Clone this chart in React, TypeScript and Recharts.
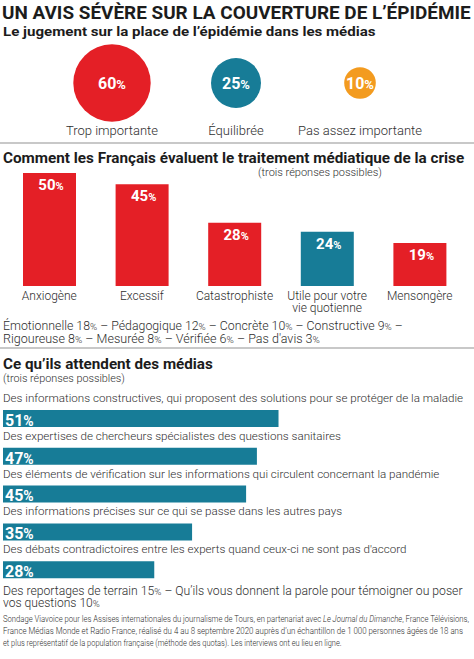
import React, { useLayoutEffect, useRef, useState } from 'react';
import { ScatterChart, Scatter, XAxis, YAxis, ZAxis, BarChart, Bar, Cell, LabelList } from 'recharts';

// Le jugement sur la place de l'épidémie dans les médias
const jugementLabels = ['Trop importante', 'Équilibrée', 'Pas assez importante'];
const jugementValues = [60, 25, 10];

// Comment les Français évaluent le traitement médiatique de la crise
const traitementLabels = ['Anxiogène', 'Excessif', 'Catastrophiste', 'Utile pour votre\nvie quotienne', 'Mensongère'];
const traitementValues = [50, 45, 28, 24, 19];
const autresLigne1: [string, number][] = [['Émotionnelle', 18], ['Pédagogique', 12], ['Concrète', 10], ['Constructive', 9]];
const autresLigne2: [string, number][] = [['Rigoureuse', 8], ['Mesurée', 8], ['Vérifiée', 6], ["Pas d'avis", 3]];

// Ce qu'ils attendent des médias
const attentesLabels = [
  'Des informations constructives, qui proposent des solutions pour se protéger de la maladie',
  'Des expertises de chercheurs spécialistes des questions sanitaires',
  'Des éléments de vérification sur les informations qui circulent concernant la pandémie',
  'Des informations précises sur ce qui se passe dans les autres pays',
  "Des débats contradictoires entre les experts quand ceux-ci ne sont pas d'accord",
];
const attentesValues = [51, 47, 45, 35, 28];

const RED = '#e41f26';
const TEAL = '#177c97';
const ORANGE = '#f39b1f';
const INK = '#1c1c1c';
const GREY = '#2e2e2e';
const RULE = '#c8c8c8';
const FONT = 'Roboto, sans-serif';

const jugementColors = [RED, TEAL, ORANGE];
const traitementColors = [RED, RED, RED, TEAL, RED];

const jugementData = jugementLabels.map((name, i) => ({ name, value: jugementValues[i], y: 0.5 }));
const traitementData = traitementLabels.map((name, i) => ({ name, value: traitementValues[i] }));
const attentesData = attentesLabels.map((name, i) => ({ name, value: attentesValues[i] }));

// text squeezed horizontally to a given width (the original uses a condensed face)
const Fit = ({ x, y, size, weight = 400, len, fill = INK, children }: any) => {
  const ref = useRef<SVGTextElement>(null);
  const [k, setK] = useState(1);
  useLayoutEffect(() => {
    if (!ref.current) return;
    const w = ref.current.getBBox().width;
    if (w > 0) setK(len / w);
  }, [len]);
  return (
    <text
      ref={ref}
      x={0}
      y={0}
      transform={`translate(${x},${y}) scale(${k},1)`}
      fontSize={size}
      fontWeight={weight}
      fill={fill}
    >
      {children}
    </text>
  );
};

const Pct = ({ v, size }: { v: number | string; size: number }) => (
  <>
    {v}
    <tspan fontSize={size}>%</tspan>
  </>
);

const pctList = (items: [string, number][], size: number, tail: boolean) =>
  items.map(([lab, v], i) => (
    <React.Fragment key={lab}>
      {i > 0 ? ' – ' : ''}
      {lab} {v}
      <tspan fontSize={size}>%</tspan>
      {tail && i === items.length - 1 ? ' –' : ''}
    </React.Fragment>
  ));

const BubbleShape = (props: any) => {
  const { cx, cy, size, index, payload } = props;
  const r = Math.sqrt(Math.max(size, 0) / Math.PI);
  return (
    <g>
      <circle cx={cx} cy={cy} r={r} fill={jugementColors[index]} />
      <text x={cx} y={cy + 5.5} textAnchor="middle" fill="#fff" fontSize={16} fontWeight={700} fontFamily={FONT}>
        <Pct v={payload.value} size={13} />
      </text>
    </g>
  );
};

const BubbleTick = ({ x, y, payload }: any) => (
  <text x={x} y={y + 15} textAnchor="middle" fontSize={13} fontWeight={300} fill={GREY} fontFamily={FONT}>
    {payload.value}
  </text>
);

const ColTick = ({ x, y, payload }: any) => (
  <text x={x} y={y} textAnchor="middle" fontSize={12} fontWeight={300} fill={GREY} fontFamily={FONT}>
    {String(payload.value).split('\n').map((line, i) => (
      <tspan key={i} x={x} dy={i === 0 ? 14 : 12}>
        {line}
      </tspan>
    ))}
  </text>
);

const ColLabel = ({ x, y, width, value }: any) => (
  <text x={x + width / 2 + 1.5} y={y + 17} textAnchor="middle" fill="#fff" fontSize={15} fontWeight={700} fontFamily={FONT}>
    <Pct v={value} size={11} />
  </text>
);

const RowName = ({ x, y, value }: any) => (
  <text x={x} y={y - 8} textAnchor="start" fontSize={11.6} fontWeight={300} fill={GREY} fontFamily={FONT}>
    {value}
  </text>
);

const RowLabel = ({ x, y, height, value }: any) => (
  <text x={x + 2} y={y + height - 1.3} fill="#fff" fontSize={16} fontWeight={700} fontFamily={FONT}>
    <Pct v={value} size={14} />
  </text>
);

export default function App() {
  return (
    <div style={{ position: 'absolute', left: 0, top: 0, width: 474, height: 659, background: '#fff', fontFamily: FONT, overflow: 'hidden' }}>
      <svg width={474} height={659} style={{ position: 'absolute', left: 0, top: 0 }} fontFamily={FONT}>
        <Fit x={2} y={18.5} size={18.5} weight={700} len={469}>UN AVIS SÉVÈRE SUR LA COUVERTURE DE L’ÉPIDÉMIE</Fit>
        <Fit x={3} y={36} size={13.5} weight={700} len={373}>Le jugement sur la place de l’épidémie dans les médias</Fit>
        <rect x={0} y={142} width={474} height={2} fill={RULE} />

        <Fit x={3} y={162.5} size={14.5} weight={700} len={462}>Comment les Français évaluent le traitement médiatique de la crise</Fit>
        <Fit x={258} y={175.5} size={11.5} weight={300} len={124} fill={GREY}>(trois réponses possibles)</Fit>
        <Fit x={3} y={330} size={12} weight={300} len={400} fill={GREY}>{pctList(autresLigne1, 9.5, true)}</Fit>
        <Fit x={3} y={342.5} size={12} weight={300} len={317} fill={GREY}>{pctList(autresLigne2, 9.5, false)}</Fit>
        <rect x={0} y={347} width={474} height={2} fill={RULE} />

        <Fit x={3} y={368.5} size={14} weight={700} len={210}>Ce qu’ils attendent des médias</Fit>
        <Fit x={3} y={381.5} size={11.5} weight={300} len={122} fill={GREY}>(trois réponses possibles)</Fit>

        <Fit x={3} y={595} size={12} weight={300} len={460} fill={GREY}>
          Des reportages de terrain 15<tspan fontSize={9.5}>%</tspan> – Qu’ils vous donnent la parole pour témoigner ou poser
        </Fit>
        <Fit x={3} y={607} size={12} weight={300} len={97} fill={GREY}>
          vos questions 10<tspan fontSize={9.5}>%</tspan>
        </Fit>

        <Fit x={3} y={621.7} size={9.5} weight={300} len={467} fill={GREY}>
          Sondage Viavoice pour les Assises internationales du journalisme de Tours, en partenariat avec{' '}
          <tspan fontStyle="italic">Le Journal du Dimanche</tspan>, France Télévisions,
        </Fit>
        <Fit x={3} y={634} size={9.5} weight={300} len={461} fill={GREY}>
          France Médias Monde et Radio France, réalisé du 4 au 8 septembre 2020 auprès d’un échantillon de 1 000 personnes âgées de 18 ans
        </Fit>
        <Fit x={3} y={646} size={9.5} weight={300} len={339} fill={GREY}>
          et plus représentatif de la population française (méthode des quotas). Les interviews ont eu lieu en ligne.
        </Fit>
      </svg>

      <div style={{ position: 'absolute', left: 0, top: 0 }}>
        <ScatterChart width={474} height={145} margin={{ top: 46, right: 52, bottom: 0, left: 50 }}>
          <XAxis
            dataKey="name"
            type="category"
            allowDuplicatedCategory={false}
            axisLine={false}
            tickLine={false}
            tickSize={0}
            tickMargin={0}
            height={25}
            tick={<BubbleTick />}
          />
          <YAxis dataKey="y" type="number" domain={[0, 1]} hide />
          <ZAxis dataKey="value" type="number" domain={[0, 60]} range={[0, Math.PI * 38.7 * 38.7]} />
          <Scatter data={jugementData} isAnimationActive={false} shape={<BubbleShape />} />
        </ScatterChart>
      </div>

      <div style={{ position: 'absolute', left: 0, top: 165 }}>
        <BarChart width={474} height={156} data={traitementData} margin={{ top: 8, right: 8, bottom: 0, left: 3 }}>
          <XAxis
            dataKey="name"
            axisLine={false}
            tickLine={false}
            tickSize={0}
            tickMargin={0}
            height={35}
            interval={0}
            tick={<ColTick />}
          />
          <YAxis type="number" domain={[0, 50]} hide />
          <Bar dataKey="value" barSize={53} isAnimationActive={false}>
            {traitementData.map((d, i) => (
              <Cell key={d.name} fill={traitementColors[i]} />
            ))}
            <LabelList dataKey="value" content={<ColLabel />} />
          </Bar>
        </BarChart>
      </div>

      <div style={{ position: 'absolute', left: 0, top: 385 }}>
        <BarChart width={474} height={206} data={attentesData} layout="vertical" margin={{ top: 15, right: 1, bottom: 2, left: 3 }}>
          <XAxis type="number" domain={[0, 87]} hide />
          <YAxis type="category" dataKey="name" hide />
          <Bar dataKey="value" barSize={17} fill={TEAL} isAnimationActive={false}>
            <LabelList dataKey="name" content={<RowName />} />
            <LabelList dataKey="value" content={<RowLabel />} />
          </Bar>
        </BarChart>
      </div>
    </div>
  );
}
